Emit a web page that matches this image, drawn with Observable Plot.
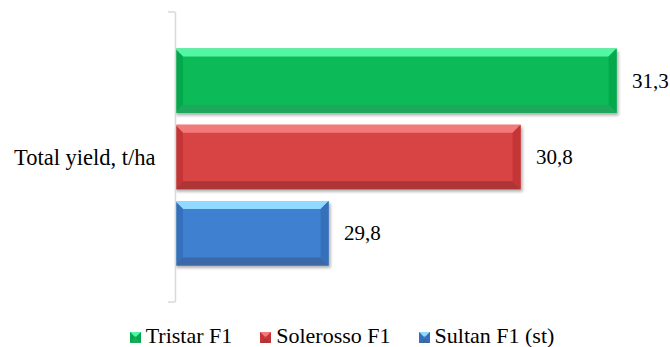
<!DOCTYPE html>
<html>
<head>
<meta charset="utf-8">
<script src="https://cdn.jsdelivr.net/npm/d3@7"></script>
<script src="https://cdn.jsdelivr.net/npm/@observablehq/plot@0.6"></script>
<style>
  html, body { margin: 0; padding: 0; background: #fff; }
  body { width: 670px; height: 347px; overflow: hidden; }
  #legend { display: flex; justify-content: center; gap: 28px; padding-top: 16px; padding-left: 14px; font-size: 22px; line-height: 24px; color: #000; }
  .item { display: flex; align-items: center; }
  .sw { width: 11px; height: 11px; margin-right: 5px; position: relative; top: 1px; }
</style>
</head>
<body style="font-family:'Liberation Serif'">
<div id="chart"></div>
<div id="legend" style="font-family:'Liberation Serif'"></div>
<script>
const varieties = ["Tristar F1", "Solerosso F1", "Sultan F1 (st)"];
const yieldValues = [31.3, 30.8, 29.8];
const categoryLabel = "Total yield, t/ha";
const xDomain = [29, 31.5];

const palette = {
  "Tristar F1":     {main: "#0cbb57", top: "#52f7a4", side: "#05a84d", bottom: "#1ea85b"},
  "Solerosso F1":   {main: "#d84444", top: "#f27a7a", side: "#c43636", bottom: "#ad3535"},
  "Sultan F1 (st)": {main: "#3f80d0", top: "#92d9ff", side: "#3570ba", bottom: "#3b68a8"}
};
const FONT = "'Liberation Serif'";

const data = varieties.map((v, i) => ({variety: v, value: yieldValues[i]}));

function bevels(index, scales, values, dimensions) {
  const x = scales.x, y = scales.y;
  const bw = y.bandwidth();
  const g = d3.create("svg:g");
  const b = 8;
  for (const d of data) {
    const x0 = x(xDomain[0]), x1 = x(d.value);
    const y0 = y(d.variety), y1 = y0 + bw;
    const c = palette[d.variety];
    const poly = (pts, fill) => g.append("polygon").attr("points", pts.map(p => p.join(",")).join(" ")).attr("fill", fill);
    poly([[x0, y0], [x1, y0], [x1 - b, y0 + b], [x0 + b, y0 + b]], c.top);
    poly([[x0, y0], [x0 + b, y0 + b], [x0 + b, y1 - b], [x0, y1]], c.side);
    poly([[x1, y0], [x1, y1], [x1 - b, y1 - b], [x1 - b, y0 + b]], c.side);
    poly([[x0, y1], [x0 + b, y1 - b], [x1 - b, y1 - b], [x1, y1]], c.bottom);
  }
  return g.node();
}

function shadows(index, scales) {
  const x = scales.x, y = scales.y;
  const bw = y.bandwidth();
  const g = d3.create("svg:g");
  const id = "shadowblur";
  g.append("defs").append("filter").attr("id", id).attr("x", "-10%").attr("y", "-20%").attr("width", "120%").attr("height", "150%")
    .append("feGaussianBlur").attr("stdDeviation", 1.6);
  for (const d of data) {
    const x0 = x(xDomain[0]), x1 = x(d.value);
    const y0 = y(d.variety);
    g.append("rect").attr("x", x0 + 1).attr("y", y0 + 2.5).attr("width", x1 - x0 + 1).attr("height", bw)
      .attr("fill", "#000").attr("opacity", 0.3).attr("filter", `url(#${id})`);
  }
  return g.node();
}

function axisTicks(index, scales, values, dimensions) {
  const g = d3.create("svg:g").attr("stroke", "#d9d9d9").attr("stroke-width", 1.5);
  const xl = dimensions.marginLeft;
  for (const yy of [dimensions.marginTop, dimensions.height - dimensions.marginBottom]) {
    g.append("line").attr("x1", xl - 7).attr("x2", xl).attr("y1", yy).attr("y2", yy);
  }
  return g.node();
}

const chart = Plot.plot({
  width: 670,
  height: 308,
  marginLeft: 175,
  marginRight: 15,
  marginTop: 12,
  marginBottom: 6,
  style: {fontFamily: FONT, fontSize: "21px", color: "#000", background: "#fff"},
  x: {domain: xDomain, axis: null},
  y: {domain: varieties, axis: null, paddingInner: 0.154, paddingOuter: 0.479, round: false},
  color: {domain: varieties, range: varieties.map(v => palette[v].main)},
  marks: [
    shadows,
    Plot.barX(data, {x1: xDomain[0], x2: "value", y: "variety", fill: "variety"}),
    bevels,
    Plot.ruleX([xDomain[0]], {stroke: "#d9d9d9", strokeWidth: 1.5}),
    axisTicks,
    Plot.text(data, {x: "value", y: "variety", text: d => d.value.toFixed(1).replace(".", ","), dx: 15, textAnchor: "start", fill: "#000", fontSize: 21, fontFamily: FONT}),
    Plot.text([categoryLabel], {frameAnchor: "left", dx: -20, textAnchor: "end", fill: "#000", fontSize: 22.5, fontFamily: FONT})
  ]
});
document.getElementById("chart").appendChild(chart);

const legend = document.getElementById("legend");
for (const v of varieties) {
  const c = palette[v];
  const item = document.createElement("div");
  item.className = "item";
  item.innerHTML = `<svg class="sw" viewBox="0 0 10 10"><rect width="10" height="10" fill="${c.main}"/><polygon points="0,0 10,0 6,4 4,4" fill="${c.top}"/><polygon points="0,10 4,6 6,6 10,10" fill="${c.bottom}"/><polygon points="0,0 4,4 4,6 0,10" fill="${c.side}"/><polygon points="10,0 6,4 6,6 10,10" fill="${c.side}"/></svg><span>${v}</span>`;
  legend.appendChild(item);
}
</script>
</body>
</html>
